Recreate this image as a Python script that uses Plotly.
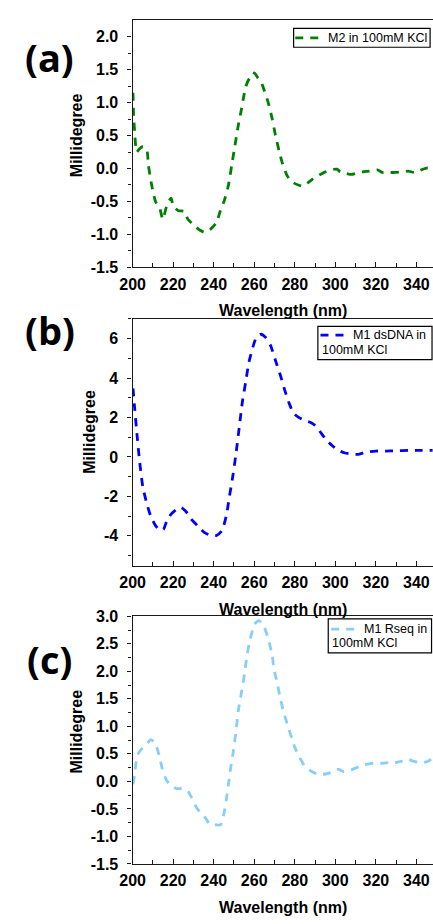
import plotly.graph_objects as go

# ---- CD spectra (wavelength in nm, ellipticity in millidegree) ----
wl_m2 = [200.2, 200.5, 201.0, 202.0, 203.4, 205.0, 206.9, 207.8, 209.4, 211.3, 213.3, 214.9,
         217.0, 219.0, 220.0, 222.5, 225.4, 227.3, 230.5, 232.9, 235.6, 238.5, 241.4, 243.3,
         245.2, 247.3, 248.9, 250.5, 252.1, 253.7, 254.8, 255.8, 257.7, 259.3, 260.1, 261.7,
         263.3, 264.9, 267.0, 268.9, 270.5, 272.4, 273.7, 276.1, 278.5, 281.7, 284.1, 286.4,
         288.8, 292.0, 295.2, 297.6, 300.8, 302.4, 304.8, 308.0, 310.4, 313.6, 316.8, 320.8,
         323.2, 326.4, 329.6, 332.8, 336.0, 339.2, 342.4, 345.6, 348.0]
cd_m2 = [1.15, 0.80, 0.57, 0.25, 0.30, 0.33, 0.30, 0.05, -0.25, -0.50, -0.59, -0.77,
         -0.55, -0.45, -0.57, -0.64, -0.65, -0.77, -0.87, -0.93, -0.97, -0.92, -0.82, -0.64,
         -0.49, -0.25, 0.05, 0.35, 0.65, 0.90, 1.09, 1.24, 1.37, 1.39, 1.45, 1.38,
         1.32, 1.19, 0.99, 0.75, 0.50, 0.25, 0.10, -0.10, -0.20, -0.25, -0.27, -0.22,
         -0.16, -0.10, -0.05, -0.02, -0.01, -0.05, -0.07, -0.09, -0.07, -0.05, -0.04, -0.02,
         -0.06, -0.06, -0.06, -0.05, -0.04, -0.06, -0.02, 0.01, 0.00]

wl_ds = [200.2, 201.0, 202.0, 203.4, 205.0, 206.9, 208.9, 211.3, 213.7, 215.3, 216.9, 219.0,
         221.7, 224.1, 226.5, 228.9, 232.1, 235.3, 238.5, 241.4, 244.1, 246.2, 247.8, 249.4,
         251.0, 252.6, 254.2, 255.8, 257.4, 259.3, 261.2, 263.3, 265.7, 268.1, 270.5, 272.9,
         275.3, 277.2, 279.3, 281.7, 284.9, 288.1, 290.4, 292.8, 295.2, 298.4, 301.6, 304.8,
         308.0, 311.2, 315.2, 320.0, 324.8, 329.6, 336.0, 342.4, 348.0]
cd_ds = [3.48, 2.49, 1.33, -0.17, -1.49, -2.32, -2.99, -3.48, -3.73, -3.65, -3.24, -2.90,
         -2.66, -2.57, -2.79, -3.15, -3.49, -3.82, -3.98, -3.98, -3.73, -2.99, -1.99, -1.00,
         0.16, 1.49, 2.82, 3.81, 4.81, 5.55, 6.10, 6.22, 6.05, 5.64, 4.89, 4.14,
         3.31, 2.73, 2.24, 2.02, 1.85, 1.74, 1.57, 1.24, 0.91, 0.58, 0.33, 0.20,
         0.16, 0.13, 0.25, 0.30, 0.30, 0.31, 0.33, 0.33, 0.33]

wl_rs = [200.2, 201.0, 201.8, 203.0, 205.0, 207.4, 208.9, 211.0, 213.0, 214.5, 216.9, 219.3,
         221.7, 224.1, 227.0, 228.9, 231.3, 233.7, 236.1, 238.2, 240.9, 243.3, 244.9, 246.2,
         247.3, 248.4, 249.7, 251.0, 252.1, 253.7, 255.3, 256.4, 258.0, 260.1, 262.2, 264.4,
         267.0, 268.9, 269.7, 271.3, 272.9, 274.9, 276.9, 278.5, 280.1, 282.5, 284.9, 288.0,
         291.2, 294.4, 297.6, 301.6, 304.0, 307.2, 310.4, 313.6, 316.8, 320.0, 323.2, 326.4,
         329.6, 332.8, 336.0, 338.4, 342.4, 345.6, 348.0]
cd_rs = [-0.05, 0.13, 0.37, 0.52, 0.61, 0.70, 0.76, 0.70, 0.49, 0.25, 0.01, -0.08,
         -0.13, -0.13, -0.16, -0.28, -0.46, -0.58, -0.67, -0.79, -0.79, -0.79, -0.61, -0.34,
         -0.05, 0.25, 0.55, 0.91, 1.27, 1.62, 1.98, 2.28, 2.58, 2.85, 2.92, 2.85,
         2.58, 2.28, 2.04, 1.80, 1.50, 1.21, 0.97, 0.79, 0.61, 0.43, 0.28, 0.19,
         0.13, 0.13, 0.16, 0.22, 0.18, 0.20, 0.25, 0.30, 0.32, 0.34, 0.33, 0.34,
         0.34, 0.37, 0.40, 0.37, 0.34, 0.36, 0.43]

# tick positions / labels
x_ticks = [200, 220, 240, 260, 280, 300, 320, 340]
y_ticks_a = [-1.5, -1.0, -0.5, 0.0, 0.5, 1.0, 1.5, 2.0]
y_ticks_b = [-4, -2, 0, 2, 4, 6]
y_ticks_c = [-1.5, -1.0, -0.5, 0.0, 0.5, 1.0, 1.5, 2.0, 2.5, 3.0]

series_names = ["M2 in 100mM KCl", "M1 dsDNA in<br>100mM KCl", "M1 Rseq in<br>100mM KCl"]
series_colors = ["#008000", "#0000FF", "#87CEFA"]
panel_labels = ["(a)", "(b)", "(c)"]
x_title = "Wavelength (nm)"
y_title = "Millidegree"

W, H = 433, 924


def fx(px):
    return px / W


def fy(py):
    return 1 - py / H


def bold(vals, fmt):
    return ["<b>" + format(v, fmt) + "</b>" for v in vals]


DASH = "8px,7px"
LW = 2.8
AX_COLOR = "#1a1a1a"
SANS = "Liberation Sans"
TICK_FONT = dict(family=SANS, size=16, color="black", weight=700)
TITLE_FONT = dict(family=SANS, size=16, color="black", weight=700)

# panel geometry in pixels: (top, bottom) of plot area
panels = [
    dict(top=12.7, bottom=264.2, yrange=[-1.5, 2.247], yticks=y_ticks_a, minor=0.25, fmt=".1f",
         ytitle_x=65, ytitle_y=129.5, label_y=50),
    dict(top=316.7, bottom=568.5, yrange=[-5.53, 7.0], yticks=y_ticks_b, minor=1, fmt="d",
         ytitle_x=78, ytitle_y=432, label_y=328),
    dict(top=619.7, bottom=872.0, yrange=[-1.5, 3.0], yticks=y_ticks_c, minor=0.25, fmt=".1f",
         ytitle_x=65, ytitle_y=737, label_y=663),
]
legends = [
    dict(box=(289.3, 20.7, 430.0, 40.0), line_y=30.5, line_x=(291, 318),
         lines=[("M2 in 100mM KCl", 322.5, 30.5)]),
    dict(box=(314.3, 324.3, 432.0, 358.3), line_y=333.3, line_x=(317, 345),
         lines=[("M1 dsDNA in", 348.5, 333.3), ("100mM KCl", 316.0, 348.3)]),
    dict(box=(325.0, 622.3, 431.5, 657.0), line_y=632.7, line_x=(328, 355),
         lines=[("M1 Rseq in", 359.5, 632.7), ("100mM KCl", 326.8, 647.3)]),
]

xs = [wl_m2, wl_ds, wl_rs]
ys = [cd_m2, cd_ds, cd_rs]

fig = go.Figure()
layout = dict(
    width=W, height=H,
    margin=dict(l=0, r=0, t=0, b=0),
    paper_bgcolor="white", plot_bgcolor="white",
    showlegend=False,
    font=dict(family=SANS, color="black"),
)
annotations = []
shapes = []

for i, p in enumerate(panels):
    n = "" if i == 0 else str(i + 1)
    fig.add_trace(go.Scatter(
        x=xs[i], y=ys[i], mode="lines", name=series_names[i],
        line=dict(color=series_colors[i], width=LW, dash=DASH, shape="spline", smoothing=0.6),
        xaxis="x" + n, yaxis="y" + n,
    ))
    layout["xaxis" + n] = dict(
        domain=[fx(123.3), 1.0], range=[200, 348.2], anchor="y" + n,
        showline=True, linecolor=AX_COLOR, linewidth=1.3, mirror=True,
        showgrid=False, zeroline=False,
        ticks="inside", ticklen=5, tickwidth=1.2, tickcolor=AX_COLOR,
        tickmode="array", tickvals=x_ticks, ticktext=bold(x_ticks, "d"),
        tickfont=TICK_FONT, ticklabelstandoff=2,
        minor=dict(ticks="inside", dtick=10, tick0=200, ticklen=4, tickwidth=1.2,
                   tickcolor=AX_COLOR),
    )
    layout["yaxis" + n] = dict(
        domain=[fy(p["bottom"]), fy(p["top"])], range=p["yrange"], anchor="x" + n,
        showline=True, linecolor=AX_COLOR, linewidth=1.3, mirror=False,
        showgrid=False, zeroline=False,
        ticks="outside", ticklen=4, tickwidth=1.2, tickcolor=AX_COLOR,
        tickmode="array", tickvals=p["yticks"], ticktext=bold(p["yticks"], p["fmt"]),
        tickfont=TICK_FONT, ticklabelstandoff=6,
        minor=dict(ticks="outside", dtick=p["minor"], tick0=0, ticklen=3, tickwidth=1.2,
                   tickcolor=AX_COLOR),
    )
    # axis titles
    annotations.append(dict(
        text=x_title, xref="paper", yref="paper", x=fx(278.5), y=fy(p["bottom"] + 44),
        xanchor="center", yanchor="middle", showarrow=False, font=TITLE_FONT,
    ))
    annotations.append(dict(
        text=y_title, xref="paper", yref="paper", x=fx(p["ytitle_x"]), y=fy(p["ytitle_y"]),
        xanchor="center", yanchor="middle", showarrow=False, textangle=-90, font=TITLE_FONT,
    ))
    # panel label
    annotations.append(dict(
        text=panel_labels[i], xref="paper", yref="paper", x=fx(38), y=fy(p["label_y"]),
        xanchor="center", yanchor="middle", showarrow=False,
        font=dict(size=38, color="black", weight=700, family="Open Sans"),
    ))
    # legend box
    lg = legends[i]
    x0, y0, x1, y1 = lg["box"]
    shapes.append(dict(type="rect", xref="paper", yref="paper",
                       x0=fx(x0), x1=fx(x1), y0=fy(y1), y1=fy(y0),
                       line=dict(color="black", width=1.2), fillcolor="white", layer="above"))
    shapes.append(dict(type="line", xref="paper", yref="paper",
                       x0=fx(lg["line_x"][0]), x1=fx(lg["line_x"][1]),
                       y0=fy(lg["line_y"]), y1=fy(lg["line_y"]),
                       line=dict(color=series_colors[i], width=LW, dash=DASH), layer="above"))
    for txt, tx, ty in lg["lines"]:
        annotations.append(dict(
            text=txt, xref="paper", yref="paper", x=fx(tx), y=fy(ty),
            xanchor="left", yanchor="middle", showarrow=False,
            font=dict(size=12.5, color="black", family=SANS),
        ))

layout["annotations"] = annotations
layout["shapes"] = shapes
fig.update_layout(**layout)
fig.write_html("out.html")
